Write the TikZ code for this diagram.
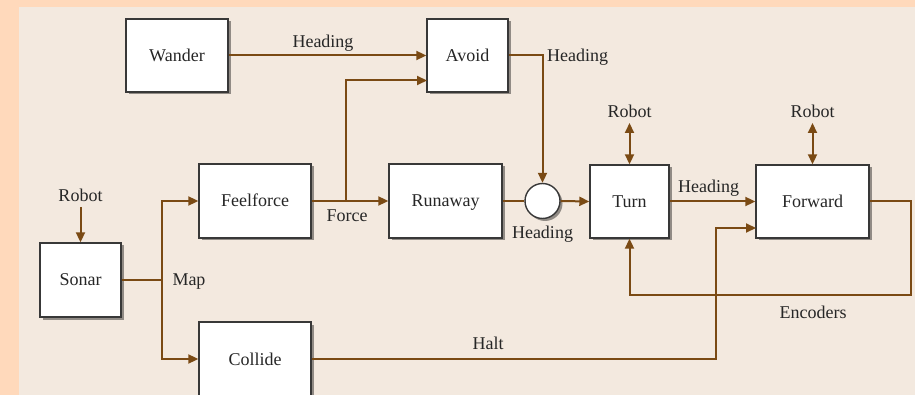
\documentclass[tikz,border=0pt]{standalone}
\usepackage{fontspec}
\setmainfont{Liberation Serif}
\usetikzlibrary{arrows.meta,shadows}
\definecolor{peach}{HTML}{FFD9BB}
\definecolor{bgbeige}{HTML}{F3E9DF}
\definecolor{wire}{HTML}{7A4A14}
\definecolor{boxline}{HTML}{383838}
\begin{document}
\begin{tikzpicture}[x=1pt,y=-1pt,
  every node/.style={font=\rmfamily\fontsize{18}{21}\selectfont, text=black!85},
  blk/.style={draw=boxline, line width=1.4pt, fill=white, inner sep=0pt,
    text height=12pt, text depth=0pt,
    drop shadow={shadow xshift=2.5pt, shadow yshift=-2.5pt, fill=black, opacity=0.4}},
  wireline/.style={draw=wire, line width=2pt},
  arr/.style={wireline, -{Triangle[length=10pt,width=9pt]}},
  darr/.style={wireline, {Triangle[length=10pt,width=9pt]}-{Triangle[length=10pt,width=9pt]}},
  lbl/.style={inner sep=1pt}]
\useasboundingbox (0,0) rectangle (915,395);
\fill[peach] (0,0) rectangle (915,395);
\fill[bgbeige] (19,7) rectangle (915,395);

% blocks
\node[blk, minimum width=102pt, minimum height=73pt] (wander) at (177,55.5) {Wander};
\node[blk, minimum width=81pt, minimum height=73pt] (avoid) at (467.5,55.5) {Avoid};
\node[blk, minimum width=112pt, minimum height=74pt] (feel) at (255,201) {Feelforce};
\node[blk, minimum width=113pt, minimum height=74pt] (run) at (445.5,201) {Runaway};
\node[blk, circle, minimum size=35pt, text height=0pt, text depth=0pt] (circ) at (542.5,201) {};
\node[blk, minimum width=79pt, minimum height=73pt] (turn) at (629.5,201.5) {Turn};
\node[blk, minimum width=113pt, minimum height=73pt] (fwd) at (812.5,201.5) {Forward};
\node[blk, minimum width=81pt, minimum height=74pt] (sonar) at (80.5,280) {Sonar};
\node[blk, minimum width=112pt, minimum height=74pt] (collide) at (255,359) {Collide};

% labels
\node[lbl] (lwh) at (323,43) {Heading};
\node[lbl, anchor=west] (lah) at (546,57) {Heading};
\node[lbl] (lforce) at (347,216) {Force};
\node[lbl] (lch) at (542.5,234) {Heading};
\node[lbl] (lrt) at (629.5,111) {Robot};
\node[lbl] (lrf) at (812.5,111) {Robot};
\node[lbl] (ltf) at (708.5,188) {Heading};
\node[lbl] (lenc) at (813,312) {Encoders};
\node[lbl] (lhalt) at (488,343) {Halt};
\node[lbl] (lmap) at (189,282) {Map};
\node[lbl] (lrs) at (80.5,195) {Robot};

% coordinates
\coordinate (fb) at (346,201);
\coordinate (av2) at (427,80.5);
\coordinate (rt) at (629.5,123);
\coordinate (rf) at (812.5,123);
\coordinate (rs) at (80.5,207);
\coordinate (e1) at (911,201.5);
\coordinate (e2) at (911,295);
\coordinate (h1) at (715.5,359);
\coordinate (h2) at (715.5,228);
\coordinate (h3) at (756,228);
\coordinate (mb) at (162,280);

% connectors
\draw[arr] (wander.east) -- (avoid.west);
\draw[arr] (feel.east) -- (run.west);
\draw[arr] (fb) |- (av2);
\draw[arr] (avoid.east) -| (circ.north);
\draw[wireline] (run.east) -- (circ.west);
\draw[arr] (circ.east) -- (turn.west);
\draw[darr] (rt) -- (turn.north);
\draw[darr] (rf) -- (fwd.north);
\draw[arr] (turn.east) -- (fwd.west);
\draw[arr] (fwd.east) -- (e1) -- (e2) -| (turn.south);
\draw[arr] (collide.east) -- (h1) -- (h2) -- (h3);
\draw[arr] (rs) -- (sonar.north);
\draw[wireline] (sonar.east) -- (mb);
\draw[arr] (mb) |- (feel.west);
\draw[arr] (mb) |- (collide.west);
\end{tikzpicture}
\end{document}
